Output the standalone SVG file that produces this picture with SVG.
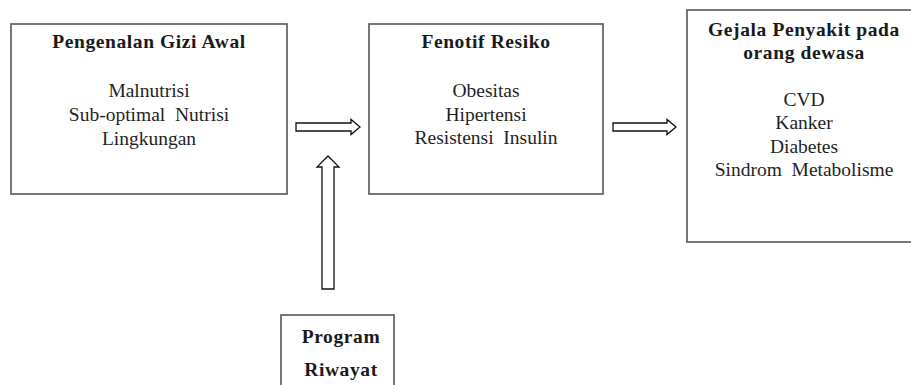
<svg xmlns="http://www.w3.org/2000/svg" width="911" height="385" viewBox="0 0 911 385">
  <style>
    .box { fill: #ffffff; stroke: #555555; stroke-width: 1.6; }
    .title { font-weight: bold; font-size: 19.5px; letter-spacing: 0.6px; fill: #1a1a1a; text-anchor: middle; }
    .body { font-size: 19.5px; fill: #1f1f1f; text-anchor: middle; }
    .arrow { fill: #ffffff; stroke: #111111; stroke-width: 1.3; stroke-linejoin: miter; }
  </style>
  <rect width="911" height="385" fill="#ffffff"/>

  <g font-family="Liberation Serif, DejaVu Serif, serif">
  <g id="node-pengenalan">
    <rect class="box" x="11" y="24" width="276" height="170"/>
    <text class="title" x="149" y="48">Pengenalan Gizi Awal</text>
    <text class="body" x="149" y="97">Malnutrisi</text>
    <text class="body" x="149" y="121" xml:space="preserve">Sub-optimal  Nutrisi</text>
    <text class="body" x="149" y="145">Lingkungan</text>
  </g>

  <g id="node-fenotif">
    <rect class="box" x="369" y="24" width="234" height="170"/>
    <text class="title" x="486" y="48">Fenotif Resiko</text>
    <text class="body" x="486" y="97">Obesitas</text>
    <text class="body" x="486" y="121">Hipertensi</text>
    <text class="body" x="486" y="144" xml:space="preserve">Resistensi  Insulin</text>
  </g>

  <g id="node-gejala">
    <rect class="box" x="687" y="10" width="234" height="232"/>
    <text class="title" x="804" y="36">Gejala Penyakit pada</text>
    <text class="title" x="804" y="59">orang dewasa</text>
    <text class="body" x="804" y="106">CVD</text>
    <text class="body" x="804" y="129">Kanker</text>
    <text class="body" x="804" y="153">Diabetes</text>
    <text class="body" x="804" y="176" xml:space="preserve">Sindrom  Metabolisme</text>
  </g>

  <g id="node-program">
    <rect class="box" x="281" y="315" width="113" height="90"/>
    <text class="title" x="341" y="343">Program</text>
    <text class="title" x="341" y="376">Riwayat</text>
  </g>
  </g>

  <g id="connectors">
    <polygon class="arrow" points="296,123 351,123 351,119.5 360,127 351,134.5 351,131 296,131"/>
    <polygon class="arrow" points="613,123 667,123 667,119.5 676,127 667,134.5 667,131 613,131"/>
    <polygon class="arrow" points="322,289 322,167 317,167 328,156 339,167 334,167 334,289"/>
  </g>
</svg>
